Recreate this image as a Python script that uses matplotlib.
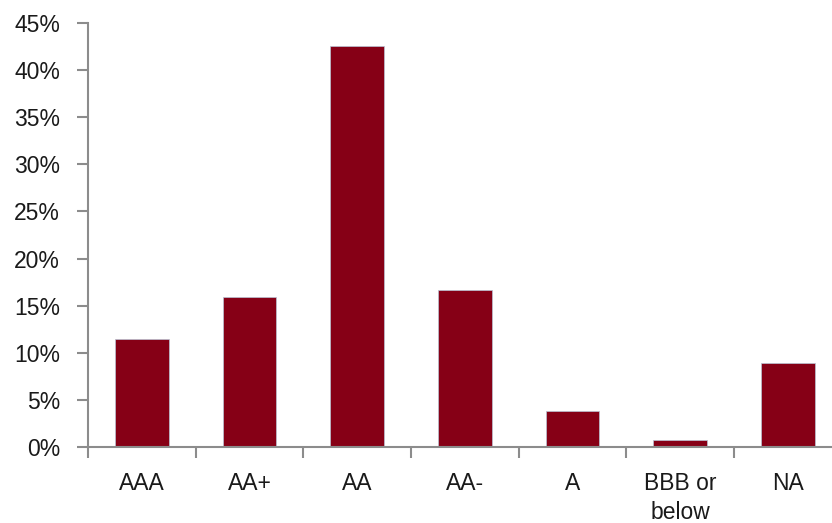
import matplotlib.pyplot as plt
import numpy as np
from matplotlib.ticker import FixedLocator, PercentFormatter

ratings = ['AAA', 'AA+', 'AA', 'AA-', 'A', 'BBB or\nbelow', 'NA']
share = [11.5, 15.9, 42.6, 16.7, 3.8, 0.7, 8.9]
yticks = [0, 5, 10, 15, 20, 25, 30, 35, 40, 45]

plt.rcParams['font.family'] = ['Liberation Sans', 'DejaVu Sans']

fig = plt.figure(figsize=(8.32, 5.23), dpi=100)
ax = fig.add_axes([88 / 832, 76 / 523, 1 - 88 / 832, 424 / 523])

x = np.arange(len(ratings))
ax.bar(x, share, width=0.5, color='#860016', edgecolor='#b8c4d6', linewidth=0.5)

ax.set_xlim(-0.5, 6.41)
ax.set_ylim(0, 45)
ax.set_yticks(yticks)
ax.yaxis.set_major_formatter(PercentFormatter(decimals=0))

# boundaries get the tick marks, centres get the labels
ax.xaxis.set_major_locator(FixedLocator(np.arange(len(ratings) + 1) - 0.5))
ax.xaxis.set_minor_locator(FixedLocator(x))
ax.set_xticklabels([], minor=False)
ax.set_xticklabels(ratings, minor=True, linespacing=1.35)
ax.tick_params(axis='x', which='minor', length=0, pad=18, labelsize=16.5,
               labelcolor='#1a1a1a')
ax.tick_params(axis='x', which='major', length=8, width=1.5, color='#8c8c8c')
ax.tick_params(axis='y', length=8, width=1.5, color='#8c8c8c', pad=12,
               labelsize=16.5, labelcolor='#1a1a1a')

for s in ['top', 'right']:
    ax.spines[s].set_visible(False)
for s in ['left', 'bottom']:
    ax.spines[s].set_color('#8c8c8c')
    ax.spines[s].set_linewidth(1.5)

fig.savefig('out.png', dpi=100)
